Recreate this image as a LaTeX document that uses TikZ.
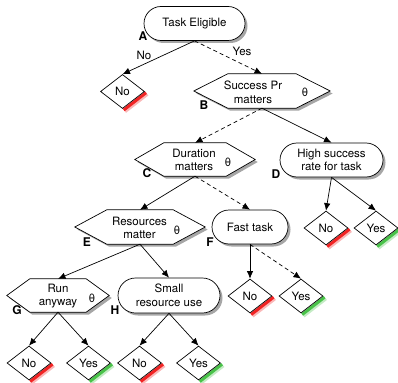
\documentclass[tikz,border=0pt]{standalone}
\usepackage{fontspec}
\setmainfont{TeX Gyre Heros}
\usetikzlibrary{shapes.misc,shapes.geometric,shadows,arrows.meta,backgrounds}

\definecolor{nored}{RGB}{240,20,20}
\definecolor{yesgreen}{RGB}{60,190,60}

% hexagonal decision box drawn around an invisible rectangle node
% #1 = node name, #2 = length of the pointed ends
\newcommand\hexoutline[2]{%
  \path[hexline] (#1.west) -- ([xshift=#2]#1.north west) -- ([xshift=-#2]#1.north east)
    -- (#1.east) -- ([xshift=-#2]#1.south east) -- ([xshift=#2]#1.south west) -- cycle;}

% coloured glow along the lower right edge of an outcome diamond
\newcommand\leafglow[2]{%
  \begin{scope}[on background layer]
    \draw[#2, line width=5pt, opacity=0.3] ([shift={(2,2)}]#1.east) -- ([shift={(2,2)}]#1.south);
    \draw[#2, line width=3pt, opacity=0.9] ([shift={(1.2,1.2)}]#1.east) -- ([shift={(1.2,1.2)}]#1.south);
  \end{scope}}

\begin{document}
\begin{tikzpicture}[x=1pt,y=-1pt,
  font=\fontsize{11.5}{13.5}\selectfont,
  base/.style={line width=0.7pt},
  softshadow/.style={drop shadow={shadow xshift=2.5pt,shadow yshift=-2.5pt,fill=black,opacity=0.35}},
  stadium/.style={rounded rectangle, draw, fill=white, base, softshadow,
    minimum height=34pt, inner sep=0pt, align=center},
  hexbox/.style={rectangle, inner sep=0pt, minimum height=34pt},
  hexline/.style={draw, fill=white, base, softshadow, line join=miter},
  leaf/.style={diamond, draw, fill=white, base, minimum width=44pt,
    minimum height=34pt, inner sep=0pt, aspect=1.3},
  txt/.style={align=center, inner sep=0pt},
  tag/.style={font=\fontsize{12}{12}\selectfont\bfseries, inner sep=0pt},
  edgelab/.style={inner sep=0pt},
  arr/.style={base, -{Latex[length=7.5pt,width=6.5pt]}},
  dasharr/.style={arr, dash pattern=on 4pt off 3pt},
]
\useasboundingbox (0,0) rectangle (398,382);

% ---- root ----
\node[stadium, minimum width=101pt] (TE) at (194.5,23.5) {Task Eligible};
\node[leaf] (N0) at (122.5,91.5) {No};

% ---- B ----
\node[hexbox, minimum width=136pt] (B) at (262,91) {};
\hexoutline{B}{34}
\node[txt] (Bt) at (253,92.5) {Success Pr\\matters};
\node[txt] (Bth) at (305,92) {θ};

% ---- C ----
\node[hexbox, minimum width=120pt, minimum height=33pt] (C) at (195,159.5) {};
\hexoutline{C}{29}
\node[txt] (Ct) at (194,160) {Duration\\matters};
\node[txt] (Cth) at (228,162) {θ};

% ---- D ----
\node[stadium, minimum width=103pt] (D) at (331.5,160) {High success\\rate for task};
\node[leaf] (ND) at (326,228) {No};
\node[leaf] (YD) at (376,228) {Yes};

% ---- E ----
\node[hexbox, minimum width=130pt] (E) at (140,227) {};
\hexoutline{E}{32}
\node[txt] (Et) at (139.5,228) {Resources\\matter};
\node[txt] (Eth) at (177,230) {θ};

% ---- F ----
\node[stadium, minimum width=76pt] (F) at (250,227) {Fast task};
\node[leaf] (NF) at (250,296) {No};
\node[leaf] (YF) at (301,296) {Yes};

% ---- G ----
\node[hexbox, minimum width=102pt, minimum height=33pt] (G) at (58,295.5) {};
\hexoutline{G}{23}
\node[txt] (Gt) at (58,296) {Run\\anyway};
\node[txt] (Gth) at (92,298) {θ};
\node[leaf] (NG) at (29,363) {No};
\node[leaf] (YG) at (88.5,363) {Yes};

% ---- H ----
\node[stadium, minimum width=102pt, minimum height=35pt] (H) at (169,295.5) {Small\\resource use};
\node[leaf] (NH) at (139.5,363) {No};
\node[leaf] (YH) at (198.5,363) {Yes};

% outcome glows
\leafglow{N0}{nored}
\leafglow{ND}{nored}
\leafglow{YD}{yesgreen}
\leafglow{NF}{nored}
\leafglow{YF}{yesgreen}
\leafglow{NG}{nored}
\leafglow{YG}{yesgreen}
\leafglow{NH}{nored}
\leafglow{YH}{yesgreen}

% node tags
\node[tag] (tA) at (143,36) {A};
\node[tag] (tB) at (204,105) {B};
\node[tag] (tC) at (147,173) {C};
\node[tag] (tD) at (276,174) {D};
\node[tag] (tE) at (87,242) {E};
\node[tag] (tF) at (210,242) {F};
\node[tag] (tG) at (17,310) {G};
\node[tag] (tH) at (115,310) {H};

% connectors
\draw[arr] (TE.south) -- (N0.north);
\draw[dasharr] (TE.south) -- (B.north);
\node[edgelab] (lno) at (144,55) {No};
\node[edgelab] (lyes) at (242,51) {Yes};

\draw[dasharr] (B.south) -- (C.north);
\draw[arr] (B.south) -- (D.north);

\draw[arr] (D.south) -- (ND.north);
\draw[arr] (D.south) -- (YD.north);

\draw[arr] (C.south) -- (E.north);
\draw[dasharr] (C.south) -- (F.north);

\draw[arr] (F.south) -- (NF.north);
\draw[dasharr] (F.south) -- (YF.north);

\draw[arr] (E.south) -- (G.north);
\draw[arr] (E.south) -- (H.north);

\draw[arr] (G.south) -- (NG.north);
\draw[arr] (G.south) -- (YG.north);
\draw[arr] (H.south) -- (NH.north);
\draw[arr] (H.south) -- (YH.north);
\end{tikzpicture}
\end{document}
